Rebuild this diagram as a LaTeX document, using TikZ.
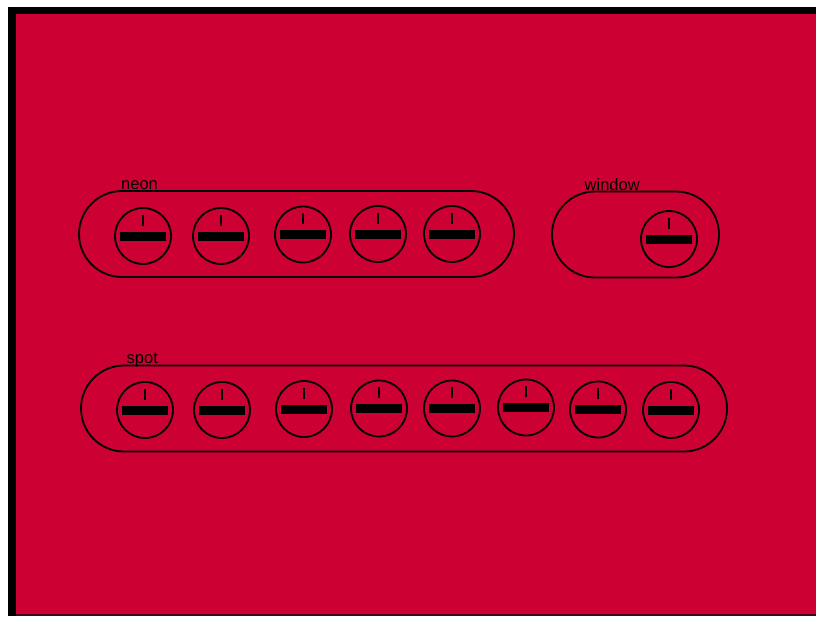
\documentclass[tikz,border=0pt]{standalone}
\usepackage{fontspec}
\setmainfont{Liberation Sans}
\definecolor{panelred}{RGB}{204,0,51}
\definecolor{edgedark}{RGB}{60,10,20}
\begin{document}
\begin{tikzpicture}[x=1pt,y=-1pt,
  capsule/.style={draw=black, line width=1.8pt, rectangle, rounded corners=43pt, inner sep=0pt, minimum height=86pt},
  knob/.style={circle, draw=black, line width=1.8pt, minimum size=56pt, inner sep=0pt,
    path picture={
      \fill[black] ([xshift=-23pt,yshift=-4.5pt]path picture bounding box.center)
        rectangle ([xshift=23pt,yshift=4.5pt]path picture bounding box.center);
      \draw[black, line width=2pt] ([yshift=10.5pt]path picture bounding box.center)
        -- ([yshift=21.5pt]path picture bounding box.center);
    }},
  tag/.style={anchor=base west, inner sep=0pt, font=\fontsize{16.5}{18}\selectfont}
]
% canvas and frame
\useasboundingbox (0,0) rectangle (816,616);
\fill[white] (0,0) rectangle (816,616);
\fill[black] (8,7) rectangle (816,616);
\fill[panelred] (16,14) rectangle (816,613.5);
\fill[edgedark] (16,613.5) rectangle (816,616);

% neon group
\node[capsule, minimum width=435pt] (neon) at (296.5,234) {};
\node[tag] (neonlbl) at (121,189) {neon};
\node[knob] (n1) at (143,236) {};
\node[knob] (n2) at (221,236) {};
\node[knob] (n3) at (303,234.5) {};
\node[knob] (n4) at (378,234) {};
\node[knob] (n5) at (452,234) {};

% window group
\node[capsule, minimum width=167pt] (window) at (635.5,234.5) {};
\node[tag] (windowlbl) at (584.5,190.5) {window};
\node[knob] (w1) at (669,239) {};

% spot group
\node[capsule, minimum width=646pt] (spot) at (404,408.5) {};
\node[tag] (spotlbl) at (126.5,363.5) {spot};
\node[knob] (s1) at (145,410) {};
\node[knob] (s2) at (222,410) {};
\node[knob] (s3) at (304,409) {};
\node[knob] (s4) at (379,408.5) {};
\node[knob] (s5) at (452,408.5) {};
\node[knob] (s6) at (526,407.5) {};
\node[knob] (s7) at (598,409.5) {};
\node[knob] (s8) at (671,410) {};
\end{tikzpicture}
\end{document}
